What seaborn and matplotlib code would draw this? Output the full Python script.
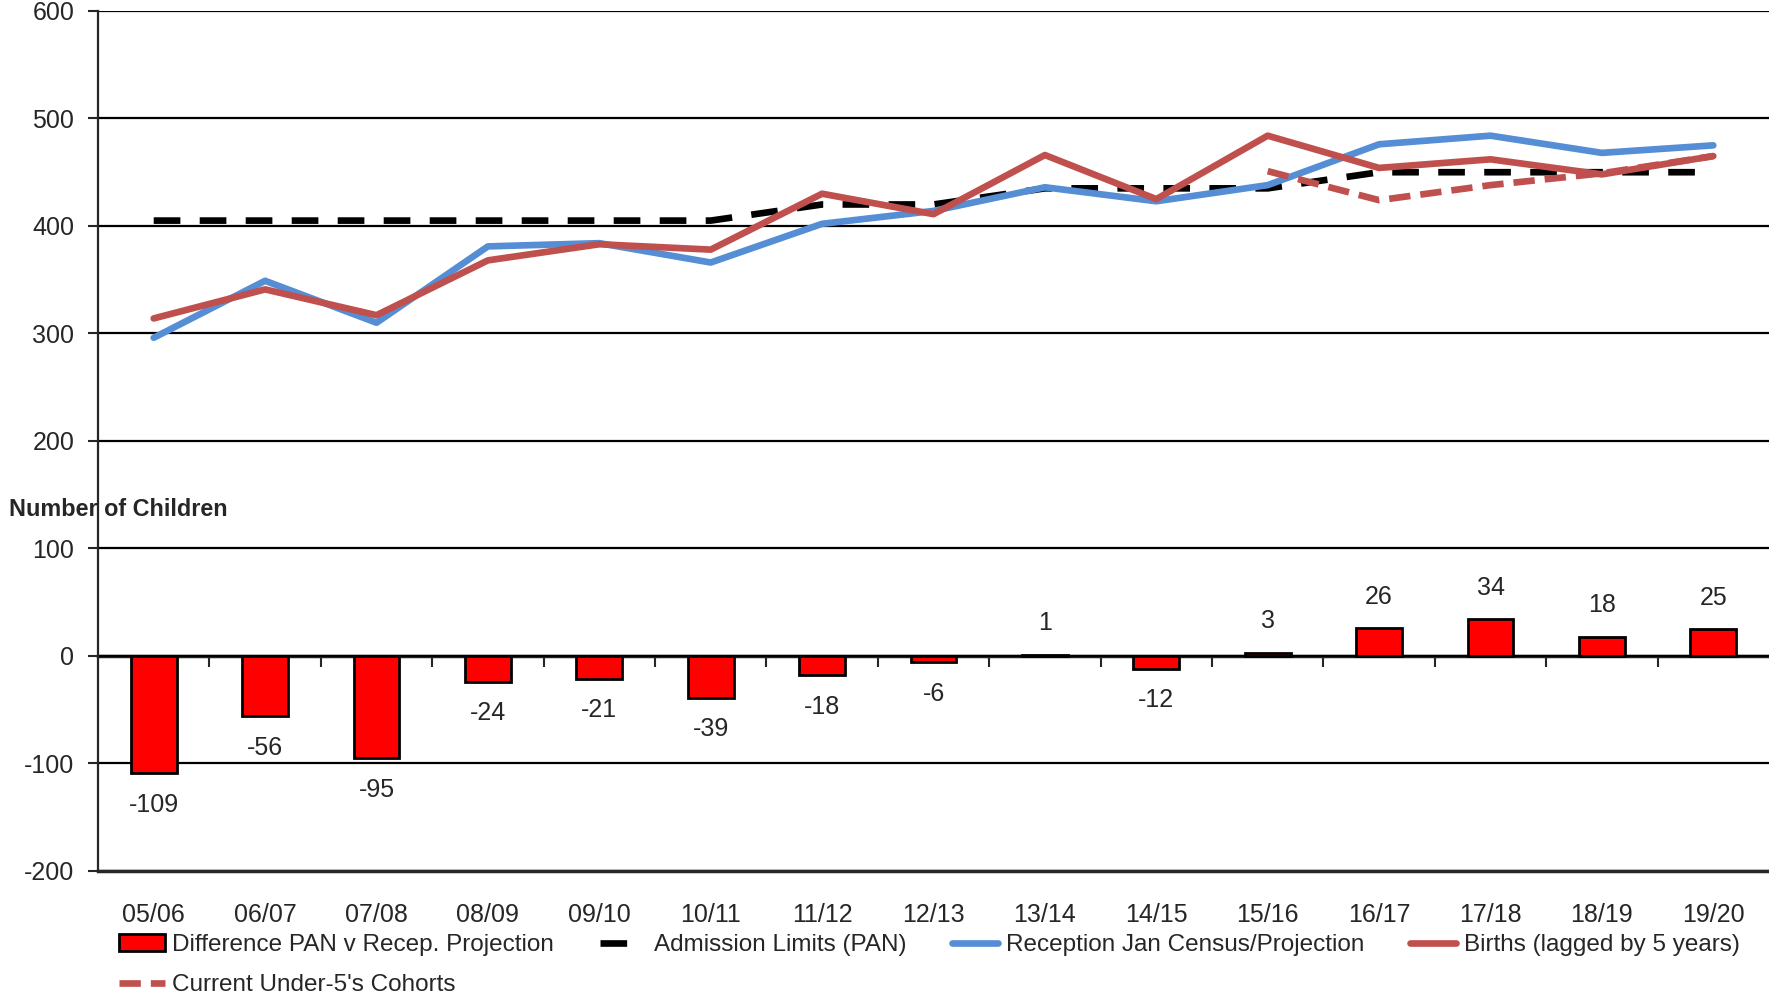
import numpy as np
import pandas as pd
import seaborn as sns
import matplotlib.pyplot as plt
from matplotlib.patches import Patch

years = ['05/06', '06/07', '07/08', '08/09', '09/10', '10/11', '11/12', '12/13',
         '13/14', '14/15', '15/16', '16/17', '17/18', '18/19', '19/20']
difference = [-109, -56, -95, -24, -21, -39, -18, -6, 1, -12, 3, 26, 34, 18, 25]
pan = [405, 405, 405, 405, 405, 405, 420, 420, 435, 435, 435, 450, 450, 450, 450]
reception = [296, 349, 310, 381, 384, 366, 402, 414, 436, 423, 438, 476, 484, 468, 475]
births = [314, 341, 317, 368, 383, 378, 430, 411, 466, 425, 484, 454, 462, 448, 465]
cohorts = [np.nan, np.nan, np.nan, np.nan, np.nan, np.nan, np.nan, np.nan,
           np.nan, np.nan, 451, 424, 438, 449, 465]

df = pd.DataFrame({'year': years, 'pos': np.arange(len(years)), 'difference': difference,
                   'pan': pan, 'reception': reception, 'births': births, 'cohorts': cohorts})

sns.set_style('white')
plt.rcParams['font.family'] = ['Liberation Sans', 'DejaVu Sans']
plt.rcParams['axes.unicode_minus'] = False

fig = plt.figure(figsize=(17.69, 9.98), dpi=100)
ax = fig.add_axes([0.0554, 0.1273, 0.9446, 0.8617])

# bars
sns.barplot(data=df, x='year', y='difference', color='#FF0000', edgecolor='black',
            linewidth=2, width=0.41, saturation=1, errorbar=None, ax=ax)
ax.bar_label(ax.containers[0], fontsize=18, padding=14)

# lines
lw = 4.8
sns.lineplot(data=df, x='pos', y='pan', color='black', linewidth=lw,
             linestyle=(0, (4.0, 2.9)), ax=ax)
sns.lineplot(data=df, x='pos', y='reception', color='#558ED5', linewidth=lw, ax=ax)
sns.lineplot(data=df, x='pos', y='births', color='#C0504D', linewidth=lw, ax=ax)
sns.lineplot(data=df, x='pos', y='cohorts', color='#C0504D', linewidth=lw,
             linestyle=(0, (3.2, 1.5)), ax=ax)

ax.set_xlim(-0.5, len(years) - 0.5)
ax.set_ylim(-200, 600)
ax.set_yticks(np.arange(-200, 601, 100))
ax.yaxis.grid(True, color='black', linewidth=1.6)
for line in ax.get_ygridlines():
    line.set_zorder(0.5)

ax.set_xticks(np.arange(len(years)))
ax.set_xticklabels(years)
ax.tick_params(axis='x', length=0, pad=23, labelsize=18)
ax.tick_params(axis='y', length=7, width=1.5, direction='out', pad=10, labelsize=18, left=True)
ax.set_xlabel('')
ax.set_ylabel('')

for s in ['top', 'right']:
    ax.spines[s].set_visible(False)
ax.spines['left'].set_linewidth(1.6)
ax.spines['bottom'].set_linewidth(2.5)

# category axis crossing at zero
zax = ax.secondary_xaxis(0.25)
zax.set_xticks(np.arange(len(years) - 1) + 0.5)
zax.set_xticklabels([])
zax.tick_params(length=8, width=1.5, direction='out')
zax.spines['bottom'].set_linewidth(2.5)

fig.text(0.005, 1 - 510 / 998, 'Number of Children', fontsize=16.8, fontweight='bold',
         va='center', ha='left')

h_bar = Patch(facecolor='#FF0000', edgecolor='black', linewidth=2)
h_pan, h_rec, h_bir, h_coh = ax.get_lines()[-4:]
handles = [h_bar, h_coh, h_pan, h_rec, h_bir]
labels = ['Difference PAN v Recep. Projection', "Current Under-5's Cohorts",
          'Admission Limits (PAN)', 'Reception Jan Census/Projection', 'Births (lagged by 5 years)']
fig.legend(handles, labels, ncol=4, loc='upper left', bbox_to_anchor=(0.067, 0.064),
           frameon=False, fontsize=17.5, handlelength=1.9, handletextpad=0.3,
           columnspacing=1.9, labelspacing=0.75, borderaxespad=0, borderpad=0)

fig.savefig('out.png', dpi=100)
